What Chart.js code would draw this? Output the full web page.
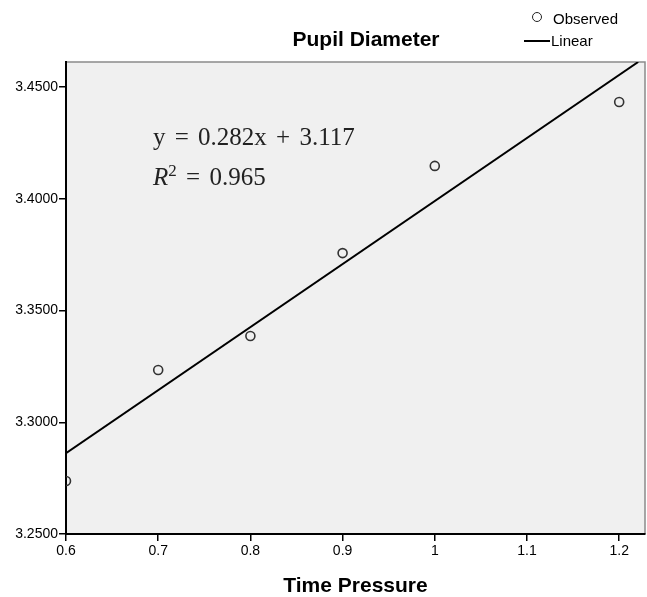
<!DOCTYPE html>
<html>
<head>
<meta charset="utf-8">
<script src="https://cdn.jsdelivr.net/npm/chart.js@4"></script>
<style>
  html, body { margin: 0; padding: 0; background: #fff; }
  #wrap { position: relative; width: 647px; height: 597px; }
  canvas { position: absolute; left: 0; top: 0; }
  .lbl { position: absolute; white-space: nowrap; color: #000; }
  #title { font: bold 21px "Liberation Sans", Arial, sans-serif; left: 366px; top: 27px; transform: translateX(-50%); }
  #legObs { font: 15px "Liberation Sans", Arial, sans-serif; left: 553px; top: 10px; }
  #legLin { font: 15px "Liberation Sans", Arial, sans-serif; left: 551px; top: 32px; }
  #legCircle { position: absolute; left: 532px; top: 12px; width: 8px; height: 8px; border: 1.6px solid #222; border-radius: 50%; }
  #legLine { position: absolute; left: 524px; top: 40px; width: 26px; height: 2px; background: #000; }
  .eq { font: 25px "Liberation Serif", "DejaVu Serif", serif; color: #222; word-spacing: 3px; }
  #eq1 { left: 153px; top: 123px; }
  #eq2 { left: 153px; top: 161px; }
</style>
</head>
<body>
<div id="wrap">
  <canvas id="c" width="647" height="597"></canvas>
  <div class="lbl" id="title">Pupil Diameter</div>
  <div id="legCircle"></div>
  <div class="lbl" id="legObs">Observed</div>
  <div id="legLine"></div>
  <div class="lbl" id="legLin">Linear</div>
  <div class="lbl eq" id="eq1">y = 0.282x + 3.117</div>
  <div class="lbl eq" id="eq2"><i>R</i><span style="font-size:17px;vertical-align:9px">2</span> = 0.965</div>
</div>
<script>
// ---- data ----
const timePressure = [0.6, 0.7, 0.8, 0.9, 1.0, 1.2];
const pupilDiameter = [3.2737, 3.3234, 3.3386, 3.3757, 3.4147, 3.4433];
// fitted line endpoints (as drawn in the reference)
const linearX = [0.6, 1.2206];
const linearY = [3.2862, 3.4612];
const xTicks = [0.6, 0.7, 0.8, 0.9, 1.0, 1.1, 1.2];
const yTicks = [3.25, 3.30, 3.35, 3.40, 3.45];
const xRange = [0.6, 1.228];
const yRange = [3.25, 3.4612];

const plotBg = {
  id: 'plotBg',
  beforeDraw(chart) {
    const { ctx, chartArea: a } = chart;
    ctx.save();
    ctx.fillStyle = '#f0f0f0';
    ctx.fillRect(a.left, a.top, a.right - a.left, a.bottom - a.top);
    ctx.strokeStyle = '#8a8a8a';
    ctx.lineWidth = 1.5;
    ctx.beginPath();
    ctx.moveTo(a.left, a.top);
    ctx.lineTo(a.right, a.top);
    ctx.lineTo(a.right, a.bottom);
    ctx.stroke();
    ctx.restore();
  }
};

new Chart(document.getElementById('c'), {
  type: 'scatter',
  data: {
    datasets: [
      {
        label: 'Linear',
        type: 'line',
        data: linearX.map((x, i) => ({ x, y: linearY[i] })),
        borderColor: '#000',
        borderWidth: 2,
        pointRadius: 0,
        fill: false,
        order: 2
      },
      {
        label: 'Observed',
        data: timePressure.map((x, i) => ({ x, y: pupilDiameter[i] })),
        pointStyle: 'circle',
        pointRadius: 4.5,
        pointBorderWidth: 1.6,
        borderColor: '#333',
        backgroundColor: 'rgba(0,0,0,0)',
        order: 1
      }
    ]
  },
  options: {
    responsive: false,
    animation: false,
    devicePixelRatio: 1,
    layout: { autoPadding: false, padding: { top: 62, right: 2, left: 0, bottom: 0 } },
    plugins: {
      legend: { display: false },
      title: { display: false },
      tooltip: { enabled: false }
    },
    scales: {
      x: {
        type: 'linear',
        min: xRange[0],
        max: xRange[1],
        afterBuildTicks: s => { s.ticks = xTicks.map(v => ({ value: v })); },
        afterFit: s => { s.height = 63; s.paddingLeft = 0; s.paddingRight = 0; },
        ticks: {
          color: '#000',
          font: { family: '"Liberation Sans", Arial, sans-serif', size: 14 },
          padding: 2,
          callback: v => String(Math.round(v * 10) / 10),
          maxRotation: 0
        },
        grid: { drawOnChartArea: false, color: '#000', tickLength: 7, lineWidth: 1.5 },
        border: { color: '#000', width: 2 },
        title: {
          display: true,
          text: 'Time Pressure',
          color: '#000',
          font: { family: '"Liberation Sans", Arial, sans-serif', size: 21, weight: 'bold' },
          padding: { top: 0, bottom: -2 }
        }
      },
      y: {
        type: 'linear',
        min: yRange[0],
        max: yRange[1],
        afterBuildTicks: s => { s.ticks = yTicks.map(v => ({ value: v })); },
        afterFit: s => { s.width = 66; s.paddingTop = 0; s.paddingBottom = 0; },
        ticks: {
          color: '#000',
          font: { family: '"Liberation Sans", Arial, sans-serif', size: 14 },
          padding: 1,
          callback: v => Number(v).toFixed(4)
        },
        grid: { drawOnChartArea: false, color: '#000', tickLength: 7, lineWidth: 1.5 },
        border: { color: '#000', width: 2 }
      }
    }
  },
  plugins: [plotBg]
});
</script>
</body>
</html>
